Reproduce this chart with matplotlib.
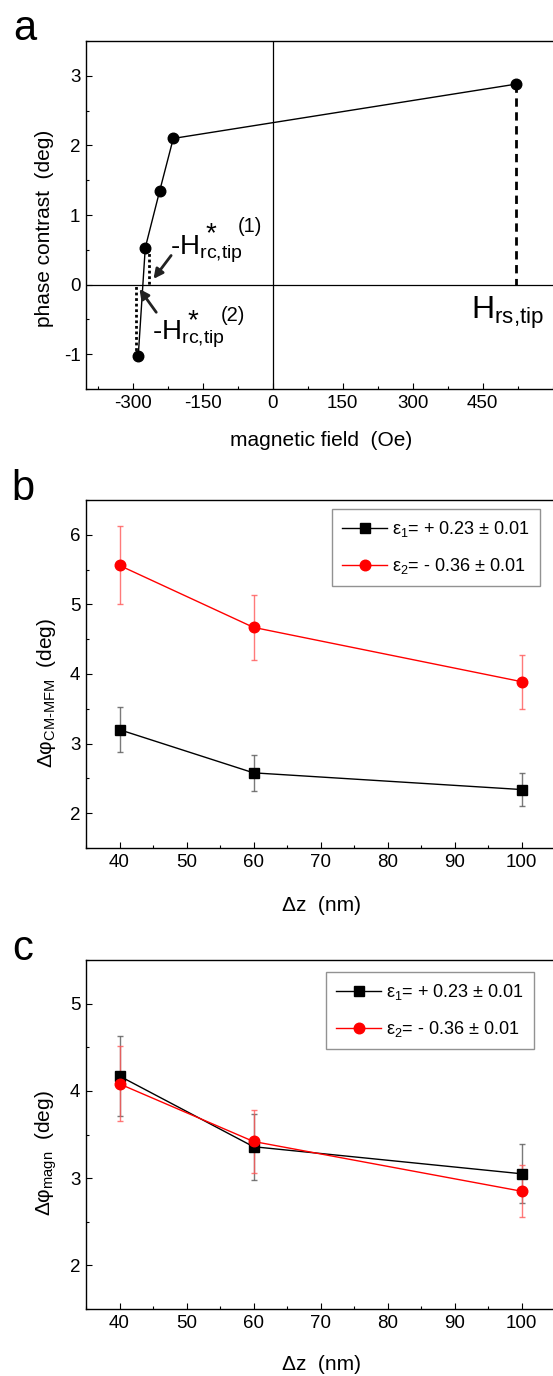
import matplotlib

matplotlib.use("Agg")
import matplotlib.pyplot as plt
from matplotlib.ticker import MultipleLocator

plt.rcParams["font.family"] = ["Liberation Sans", "DejaVu Sans"]
plt.rcParams["mathtext.fontset"] = "custom"
plt.rcParams["mathtext.rm"] = "Liberation Sans"
plt.rcParams["mathtext.it"] = "Liberation Sans"
plt.rcParams["mathtext.bf"] = "Liberation Sans:bold"
plt.rcParams["axes.unicode_minus"] = False

# ---- panel a: phase contrast vs field ----
field_oe = [-288, -273, -242, -213, 521]
phase_deg = [-1.02, 0.53, 1.35, 2.10, 2.88]
h_rc1 = -266      # dotted marker for -H*rc,tip (1)
h_rc2 = -292      # dotted marker for -H*rc,tip (2)

# ---- panels b, c: vs tip-sample distance ----
dz_nm = [40, 60, 100]
b_eps1 = [3.20, 2.58, 2.34]
b_eps1_err = [0.32, 0.26, 0.24]
b_eps2 = [5.56, 4.67, 3.89]
b_eps2_err = [0.56, 0.47, 0.39]
c_eps1 = [4.17, 3.36, 3.05]
c_eps1_err = [0.46, 0.38, 0.34]
c_eps2 = [4.08, 3.42, 2.85]
c_eps2_err = [0.43, 0.36, 0.30]
labels = [r"ε$_1$= + 0.23 ± 0.01", r"ε$_2$= - 0.36 ± 0.01"]

W, H = 553, 1376
fig = plt.figure(figsize=(W / 100, H / 100), dpi=100)


def px_axes(left, top, right, bottom):
    return fig.add_axes([left / W, 1 - bottom / H, (right - left) / W, (bottom - top) / H])


def style(ax):
    for s in ax.spines.values():
        s.set_linewidth(1.0)
    ax.tick_params(which="both", direction="in", labelsize=13.5, width=0.8)
    ax.tick_params(which="major", length=4.5, pad=4)
    ax.tick_params(which="minor", length=2.5)
    ax.tick_params(top=False, right=False)


# panel a (right edge runs just past the picture, as in the original figure)
ax = px_axes(86, 41, 557.4, 389)
style(ax)
ax.axhline(0, color="black", lw=0.9, zorder=1)
ax.axvline(0, color="black", lw=0.9, zorder=1)
ax.plot(field_oe, phase_deg, color="black", lw=1.0, marker="o", ms=7.6, zorder=3)
ax.plot([field_oe[-1], field_oe[-1]], [phase_deg[-1], 0], color="black", lw=2.0,
        linestyle=(0, (3, 2)), zorder=2)
ax.plot([h_rc1, h_rc1], [phase_deg[1], 0], color="black", lw=2.0, linestyle=(0, (1, 1)), zorder=2)
ax.plot([h_rc2, h_rc2], [phase_deg[0], 0], color="black", lw=2.0, linestyle=(0, (1, 1)), zorder=2)
ax.annotate("", xy=(-259, 0.05), xytext=(-214, 0.45),
            arrowprops=dict(arrowstyle="-|>", color="#222222", lw=2.0, mutation_scale=14))
ax.annotate("", xy=(-289, -0.03), xytext=(-246, -0.43),
            arrowprops=dict(arrowstyle="-|>", color="#222222", lw=2.0, mutation_scale=14))
ax.text(-220, 0.43, r"-H$_{\mathregular{rc{,}tip}}$", fontsize=20, ha="left", va="baseline")
ax.text(-133, 0.62, "*", fontsize=20, ha="center", va="baseline")
ax.text(-74, 0.75, "(1)", fontsize=14.5, ha="left", va="baseline")
ax.text(-258, -0.79, r"-H$_{\mathregular{rc{,}tip}}$", fontsize=20, ha="left", va="baseline")
ax.text(-171, -0.62, "*", fontsize=20, ha="center", va="baseline")
ax.text(-112, -0.53, "(2)", fontsize=14.5, ha="left", va="baseline")
ax.text(425, -0.50, r"H$_{\mathregular{rs{,}tip}}$", fontsize=23, ha="left", va="baseline")
ax.set_xlim(-400, 610)
ax.set_ylim(-1.5, 3.5)
ax.xaxis.set_major_locator(MultipleLocator(150))
ax.xaxis.set_minor_locator(MultipleLocator(75))
ax.yaxis.set_major_locator(MultipleLocator(1))
ax.yaxis.set_minor_locator(MultipleLocator(0.5))
ax.set_xticks([-300, -150, 0, 150, 300, 450])
ax.set_xlabel("magnetic field  (Oe)", fontsize=15, va="center")
ax.set_ylabel("phase contrast  (deg)", fontsize=15, va="center")
ax.xaxis.set_label_coords(0.498, -0.147)
ax.yaxis.set_label_coords(-0.089, 0.462)
fig.text(13 / W, 1 - 40 / H, "a", fontsize=30, ha="left", va="baseline")


def dz_panel(top, bottom, y1, e1, y2, e2, ylim, ylabel, ylab_y, xlab_y, leg_box):
    ax = px_axes(86, top, 555, bottom)
    style(ax)
    ax.errorbar(dz_nm, y1, yerr=e1, color="black", lw=1.0, marker="s", ms=7,
                ecolor=(0.35, 0.35, 0.35, 0.8), elinewidth=1.0, capsize=2.3, capthick=1.0,
                label=labels[0], zorder=3)
    ax.errorbar(dz_nm, y2, yerr=e2, color="red", lw=1.0, marker="o", ms=7.6,
                ecolor=(1, 0.35, 0.35, 0.8), elinewidth=1.0, capsize=2.3, capthick=1.0,
                label=labels[1], zorder=3)
    ax.set_xlim(35, 105)
    ax.set_ylim(*ylim)
    ax.xaxis.set_major_locator(MultipleLocator(10))
    ax.xaxis.set_minor_locator(MultipleLocator(5))
    ax.set_xticks([40, 50, 60, 70, 80, 90, 100])
    ax.yaxis.set_major_locator(MultipleLocator(1))
    ax.yaxis.set_minor_locator(MultipleLocator(0.5))
    ax.set_xlabel("Δz  (nm)", fontsize=15, va="center")
    ax.set_ylabel(ylabel, fontsize=15, va="center")
    ax.xaxis.set_label_coords(0.503, xlab_y)
    ax.yaxis.set_label_coords(-0.085, ylab_y)
    handles, labs = ax.get_legend_handles_labels()
    handles = [h[0] for h in handles]
    x0, y0 = leg_box
    leg = ax.legend(handles, labs, loc="upper left",
                    bbox_to_anchor=(x0 / W, 1 - y0 / H), bbox_transform=fig.transFigure,
                    borderaxespad=0, fontsize=13, frameon=True, fancybox=False,
                    edgecolor="#777777", handlelength=2.5, handletextpad=0.3,
                    borderpad=0.55, labelspacing=0.95)
    leg.get_frame().set_linewidth(1.0)
    return ax


dz_panel(500, 848, b_eps1, b_eps1_err, b_eps2, b_eps2_err, (1.5, 6.5),
         r"Δφ$_{\mathregular{CM\text{-}MFM}}$  (deg)", 0.445, -0.164, (332, 509))
fig.text(11 / W, 1 - 500 / H, "b", fontsize=30, ha="left", va="baseline")

dz_panel(960, 1309, c_eps1, c_eps1_err, c_eps2, c_eps2_err, (1.5, 5.5),
         r"Δφ$_{\mathregular{magn}}$  (deg)", 0.448, -0.16, (326, 972))
fig.text(12 / W, 1 - 960 / H, "c", fontsize=30, ha="left", va="baseline")

fig.savefig("out.png", dpi=100)
